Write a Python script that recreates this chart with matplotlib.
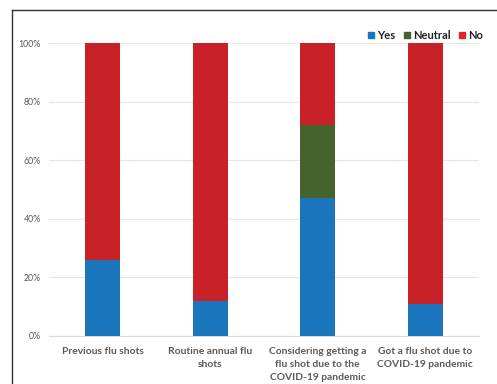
import matplotlib
matplotlib.use('Agg')
import matplotlib.pyplot as plt
from matplotlib.lines import Line2D
import numpy as np

categories = ['Previous flu shots', 'Routine annual flu\nshots',
              'Considering getting a\nflu shot due to the\nCOVID-19 pandemic',
              'Got a flu shot due to\nCOVID-19 pandemic']
yes = [26, 12, 47, 11]
neutral = [0, 0, 25, 0]
no = [74, 88, 28, 89]
yticks = [0, 20, 40, 60, 80, 100]
ytick_labels = ['0%', '20%', '40%', '60%', '80%', '100%']

plt.rcParams['font.family'] = ['Lato', 'DejaVu Sans']

fig = plt.figure(figsize=(4.97, 3.84), dpi=100)
ax = fig.add_axes([0.0986, 0.1258, 0.8652, 0.7614])

x = np.arange(len(categories))
w = 0.33
yes_arr = np.array(yes)
neu_arr = np.array(neutral)
ax.bar(x, yes, w, color='#1b75bc', label='Yes', zorder=3)
ax.bar(x, neutral, w, bottom=yes_arr, color='#44632d', label='Neutral', zorder=3)
ax.bar(x, no, w, bottom=yes_arr + neu_arr, color='#c82128', label='No', zorder=3)

ax.set_xlim(-0.5, 3.5)
ax.set_ylim(0, 100)
ax.set_yticks(yticks)
ax.set_yticklabels(ytick_labels, fontsize=6.3, color='#595959')
ax.set_xticks(x)
ax.set_xticklabels(categories, fontsize=7.4, fontweight='bold', color='#595959',
                   linespacing=1.6)
ax.tick_params(length=0, pad=6)
ax.tick_params(axis='x', pad=8)
ax.grid(axis='y', color='#e6e6e6', linewidth=0.8, zorder=0)
for s in ['top', 'right', 'left']:
    ax.spines[s].set_visible(False)
ax.spines['bottom'].set_color('#d9d9d9')

handles = [plt.Rectangle((0, 0), 1, 1, color=c) for c in ['#1b75bc', '#44632d', '#e8202a']]
leg = ax.legend(handles, ['Yes', 'Neutral', 'No'], loc='lower right', bbox_to_anchor=(1.025, 0.985),
                ncol=3, frameon=False, prop={'size': 8, 'weight': 'bold'},
                handlelength=0.55, handleheight=0.55, handletextpad=0.25, columnspacing=0.8,
                borderpad=0.1)
for t in leg.get_texts():
    t.set_color('#222222')

# outer frame (cropped on right/bottom)
fig.add_artist(Line2D([12/497, 12/497], [0, 1 - 10/384], color='#333333', lw=1.0))
fig.add_artist(Line2D([12/497, 1], [1 - 10/384, 1 - 10/384], color='#333333', lw=1.0))

fig.savefig('out.png', dpi=100)
